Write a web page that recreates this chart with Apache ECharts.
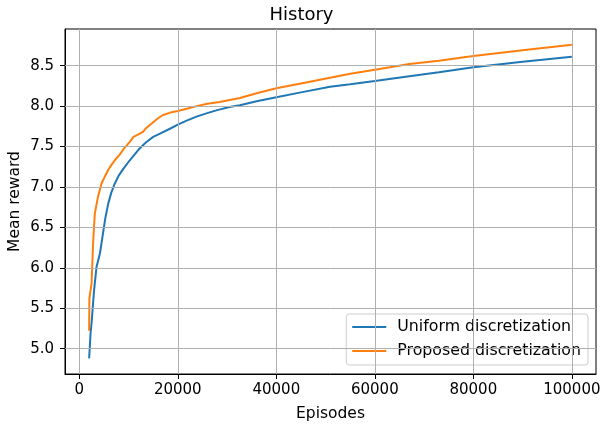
<!DOCTYPE html>
<html><head><meta charset="utf-8">
<script src="https://cdn.jsdelivr.net/npm/echarts@6/dist/echarts.min.js"></script>
<style>html,body{margin:0;padding:0;background:#fff}#c{width:603px;height:424px}</style>
</head><body><div id="c"></div>
<script>
const uniformX = [2000,2300,2500,3000,3500,4200,4800,5300,5900,6500,7200,8000,8900,10250,12000,13500,15000,16700,18400,20000,21800,23800,25800,28000,30500,32600,36000,40000,45000,50900,55000,60000,67000,73000,80000,90000,100000];
const uniformY = [4.88,5.20,5.32,5.72,6.01,6.18,6.42,6.62,6.80,6.93,7.04,7.14,7.22,7.33,7.46,7.55,7.62,7.67,7.72,7.77,7.82,7.87,7.91,7.95,7.99,8.01,8.06,8.11,8.17,8.24,8.27,8.31,8.37,8.42,8.48,8.55,8.61];
const proposedX = [2000,2050,2500,2800,3150,3800,4500,5200,5850,6500,7200,8200,9000,10300,11000,12000,12900,13600,15000,16000,17000,18500,20000,22000,23800,26000,28500,32600,36000,40000,45000,50900,55000,60000,67000,73000,80000,90000,100000];
const proposedY = [5.22,5.62,5.81,6.30,6.67,6.88,7.04,7.13,7.21,7.27,7.33,7.40,7.47,7.56,7.62,7.65,7.68,7.73,7.80,7.85,7.89,7.92,7.94,7.97,8.00,8.03,8.05,8.10,8.16,8.22,8.28,8.35,8.40,8.45,8.52,8.56,8.62,8.69,8.76];
const xTicks = [0,20000,40000,60000,80000,100000];
const yTicks = [5.0,5.5,6.0,6.5,7.0,7.5,8.0,8.5];
const seriesNames = ['Uniform discretization','Proposed discretization'];

const font = 'DejaVu Sans';
const zip = (a,b)=>a.map((v,i)=>[v,b[i]]);
const gridLines = {
  silent:true, symbol:'none', label:{show:false},
  lineStyle:{color:'#b0b0b0', width:1, type:'solid'},
  emphasis:{disabled:true},
  data: xTicks.map(v=>({xAxis:v})).concat(yTicks.map(v=>({yAxis:v})))
};
const chart = echarts.init(document.getElementById('c'));
chart.setOption({
  animation:false,
  title:{text:'History', left:'center', top:1, textStyle:{fontFamily:font, fontSize:18, fontWeight:'normal', color:'#000'}},
  grid:{left:65, right:7, top:29, bottom:50, show:true, borderColor:'#000', borderWidth:1, backgroundColor:'transparent', containLabel:false, outerBoundsMode:'none'},
  legend:{
    orient:'vertical', right:15, bottom:59, padding:[4,7,5,6],
    backgroundColor:'rgba(255,255,255,0.8)', borderColor:'#cccccc', borderWidth:1, borderRadius:3,
    icon:'rect', itemWidth:34, itemHeight:2, itemGap:6,
    textStyle:{fontFamily:font, fontSize:15.8, lineHeight:18, color:'#000', padding:[0,0,0,6]},
    data:seriesNames
  },
  xAxis:{
    type:'value', min:-2900, max:104900,
    name:'Episodes', nameLocation:'middle', nameGap:32, nameMoveOverlap:false,
    nameTextStyle:{fontFamily:font, fontSize:15.5, color:'#000'},
    axisLine:{show:true, onZero:false, lineStyle:{color:'#000'}},
    axisTick:{show:true, length:5, inside:false, lineStyle:{color:'#000'}, customValues:xTicks},
    axisLabel:{fontFamily:font, fontSize:15, color:'#000', margin:9, customValues:xTicks, formatter:v=>String(v)},
    splitLine:{show:false}
  },
  yAxis:{
    type:'value', min:4.686, max:8.954,
    name:'Mean reward', nameLocation:'middle', nameGap:42, nameMoveOverlap:false,
    nameTextStyle:{fontFamily:font, fontSize:15.5, color:'#000'},
    axisLine:{show:true, onZero:false, lineStyle:{color:'#000'}},
    axisTick:{show:true, length:5, inside:false, lineStyle:{color:'#000'}, customValues:yTicks},
    axisLabel:{fontFamily:font, fontSize:15, color:'#000', margin:11, customValues:yTicks, formatter:v=>v.toFixed(1)},
    splitLine:{show:false}
  },
  series:[
    {name:seriesNames[0], type:'line', data:zip(uniformX,uniformY), symbol:'none', showSymbol:false,
     lineStyle:{color:'#1f77b4', width:2}, itemStyle:{color:'#1f77b4'}, z:3, markLine:gridLines},
    {name:seriesNames[1], type:'line', data:zip(proposedX,proposedY), symbol:'none', showSymbol:false,
     lineStyle:{color:'#ff7f0e', width:2}, itemStyle:{color:'#ff7f0e'}, z:4}
  ]
});
</script></body></html>
